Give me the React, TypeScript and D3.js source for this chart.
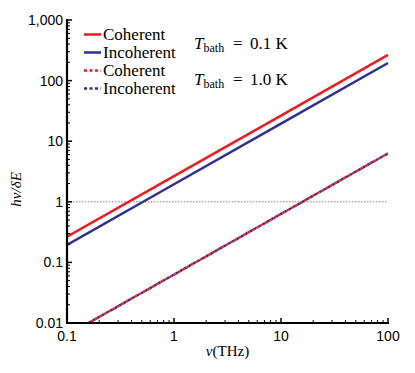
import React from "react";
import * as d3 from "d3";

// frequency (THz) and h*nu/dE at decade points
const freqs = [0.1, 1, 10, 100];
const coherent01 = [0.265, 2.65, 26.5, 265];
const incoherent01 = [0.195, 1.95, 19.5, 195];
const coherent10 = [0.0063, 0.063, 0.63, 6.3];
const incoherent10 = [0.0063, 0.063, 0.63, 6.3];

const xTicks = [0.1, 1, 10, 100];
const xTickLabels = ["0.1", "1", "10", "100"];
const yTicks = [0.01, 0.1, 1, 10, 100, 1000];
const yTickLabels = ["0.01", "0.1", "1", "10", "100", "1,000"];

const bathLabels = ["0.1 K", "1.0 K"];

const RED = "#ec1c24";
const BLUE = "#2e3192";

const W = 415;
const H = 373;
const margin = { top: 20, right: 27, bottom: 50, left: 67 };

export default function App() {
  const x = d3
    .scaleLog()
    .domain([0.1, 100])
    .range([margin.left, W - margin.right]);
  const y = d3
    .scaleLog()
    .domain([0.01, 1000])
    .range([H - margin.bottom, margin.top]);

  const line = d3
    .line<number>()
    .x((_, i) => x(freqs[i]))
    .y((d) => y(d));

  const minorX: number[] = [];
  for (let e = -1; e < 2; e++)
    for (let k = 2; k <= 9; k++) minorX.push(k * Math.pow(10, e));
  const minorY: number[] = [];
  for (let e = -2; e < 3; e++)
    for (let k = 2; k <= 9; k++) minorY.push(k * Math.pow(10, e));

  const x0 = margin.left;
  const y0 = H - margin.bottom;
  const font = "Liberation Sans, Arial, sans-serif";
  const serif = "Liberation Serif, Times New Roman, serif";

  const legend = [
    { label: "Coherent", color: RED, dash: null },
    { label: "Incoherent", color: BLUE, dash: null },
    { label: "Coherent", color: RED, dash: "3,2.5" },
    { label: "Incoherent", color: BLUE, dash: "3,2.5" },
  ];

  return (
    <svg
      width={W}
      height={H}
      style={{ position: "absolute", left: 0, top: 0, background: "#fff" }}
    >
      <defs>
        <clipPath id="plot">
          <rect
            x={margin.left}
            y={margin.top}
            width={W - margin.left - margin.right + 2}
            height={H - margin.top - margin.bottom}
          />
        </clipPath>
      </defs>

      {/* reference line at 1 */}
      <line
        x1={x(0.1)}
        x2={x(100)}
        y1={y(1)}
        y2={y(1)}
        stroke="#888"
        strokeWidth={1}
        strokeDasharray="1.5,1.5"
      />

      <g clipPath="url(#plot)" fill="none" strokeWidth={2.5}>
        <path d={line(coherent01) || ""} stroke={RED} />
        <path d={line(incoherent01) || ""} stroke={BLUE} />
        <path d={line(incoherent10) || ""} stroke={BLUE} strokeDasharray="2.5,2.5" />
        <path
          d={line(coherent10) || ""}
          stroke={RED}
          strokeDasharray="2.5,2.5"
          strokeDashoffset={2.5}
        />
      </g>

      {/* axes */}
      <g stroke="#000">
        <line x1={x0} x2={x0} y1={margin.top - 1} y2={y0 + 1} strokeWidth={2.2} />
        <line x1={x0 - 1} x2={W - margin.right + 1} y1={y0} y2={y0} strokeWidth={2.2} />
        {xTicks.map((t) => (
          <line key={"xt" + t} x1={x(t)} x2={x(t)} y1={y0} y2={y0 - 5} strokeWidth={1.5} />
        ))}
        {minorX.map((t) => (
          <line key={"xm" + t} x1={x(t)} x2={x(t)} y1={y0} y2={y0 - 3} strokeWidth={1} />
        ))}
        {yTicks.map((t) => (
          <line key={"yt" + t} x1={x0} x2={x0 + 5} y1={y(t)} y2={y(t)} strokeWidth={1.5} />
        ))}
        {minorY.map((t) => (
          <line key={"ym" + t} x1={x0} x2={x0 + 3} y1={y(t)} y2={y(t)} strokeWidth={1} />
        ))}
      </g>

      {/* tick labels */}
      <g fontFamily={font} fontSize={14} fill="#000">
        {xTicks.map((t, i) => (
          <text key={"xl" + t} x={x(t)} y={y0 + 18} textAnchor="middle">
            {xTickLabels[i]}
          </text>
        ))}
        {yTicks.map((t, i) => (
          <text key={"yl" + t} x={x0 - 4} y={y(t) + 5} textAnchor="end">
            {yTickLabels[i]}
          </text>
        ))}
      </g>

      {/* axis titles */}
      <text
        x={(x0 + W - margin.right) / 2}
        y={356}
        textAnchor="middle"
        fontFamily={serif}
        fontSize={15}
      >
        <tspan fontStyle="italic">ν</tspan>(THz)
      </text>
      <text
        transform={`translate(21,${y(1.6)}) rotate(-90)`}
        textAnchor="middle"
        fontFamily={serif}
        fontSize={15}
        fontStyle="italic"
      >
        hν/δE
      </text>

      {/* legend */}
      <g fontFamily={serif} fontSize={17}>
        {legend.map((d, i) => (
          <g key={i} transform={`translate(84,${34.5 + i * 18})`}>
            <line
              x1={0}
              x2={17}
              y1={0}
              y2={0}
              stroke={d.color}
              strokeWidth={2.5}
              strokeDasharray={d.dash || undefined}
            />
            <text x={19} y={5.5}>
              {d.label}
            </text>
          </g>
        ))}
        {bathLabels.map((b, i) => (
          <g key={b} transform={`translate(0,${49 + i * 36})`}>
            <text x={194} y={0}>
              <tspan fontStyle="italic">T</tspan>
              <tspan fontSize={12} dy={3}>bath</tspan>
            </text>
            <text x={233} y={0}>=</text>
            <text x={250} y={0}>{b}</text>
          </g>
        ))}
      </g>
    </svg>
  );
}
